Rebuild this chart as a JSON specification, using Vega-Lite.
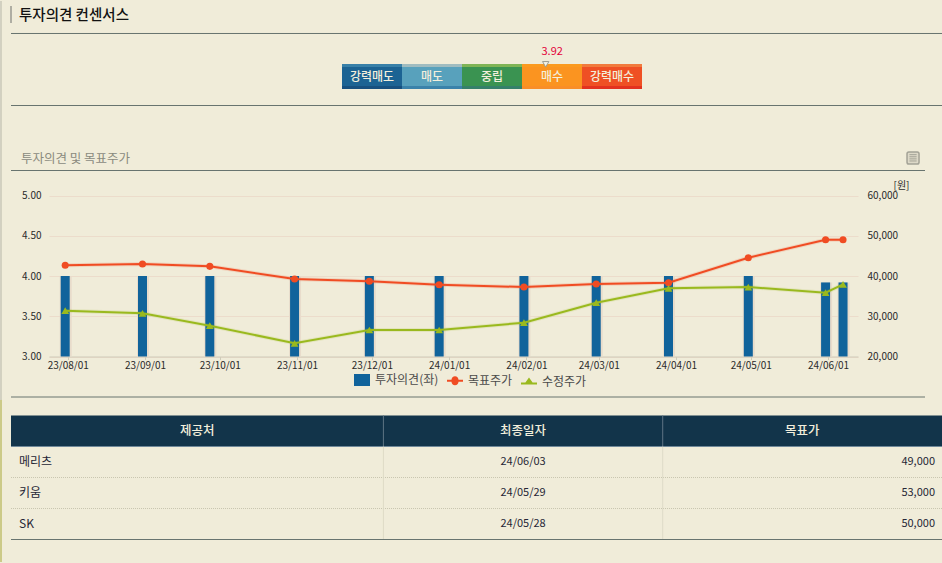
{
  "$schema": "https://vega.github.io/schema/vega-lite/v6.json",
  "background": "#f0ecd9",
  "padding": 0,
  "spacing": 0,
  "bounds": "flush",
  "datasets": {
    "head": [{"provider": "제공처", "date": "최종일자", "target": "목표가"}],
    "body": [
      {"provider": "메리츠", "date": "24/06/03", "target": 49000},
      {"provider": "키움", "date": "24/05/29", "target": 53000},
      {"provider": "SK", "date": "24/05/28", "target": 50000}
    ]
  },
  "vconcat": [
    {
      "width": 942,
      "height": 33,
      "view": {"fill": "#f0ecd9", "stroke": null},
      "data": {"values": [{"heading": "투자의견 컨센서스"}]},
      "encoding": {
        "x": {"datum": 0, "type": "quantitative", "axis": null, "scale": {"domain": [0, 1], "range": [11, 942], "zero": false, "nice": false}},
        "y": {"datum": 0.47, "type": "quantitative", "axis": null, "scale": {"domain": [0, 1], "range": [0, 33], "zero": false, "nice": false}}
      },
      "layer": [
        {"mark": {"type": "text", "align": "left", "baseline": "middle", "dx": 8, "fontSize": 14.5, "fontWeight": 500, "color": "#111"}, "encoding": {"text": {"field": "heading"}}},
        {"mark": {"type": "rule", "color": "#9a9a90", "strokeWidth": 1.5}, "encoding": {"y": {"datum": 0.18, "type": "quantitative"}, "y2": {"datum": 0.7}}},
        {"mark": {"type": "rule", "color": "#68746f"}, "encoding": {"y": {"datum": 1.015, "type": "quantitative"}, "x2": {"datum": 1}}},
        {"mark": {"type": "rule", "color": "#b5b5a8", "strokeWidth": 1}, "encoding": {"x": {"datum": -0.01074, "type": "quantitative"}, "y": {"datum": 0.03, "type": "quantitative"}, "y2": {"datum": 12.12}}},
        {"mark": {"type": "rule", "color": "#a8a838", "strokeWidth": 1}, "encoding": {"x": {"datum": -0.01074, "type": "quantitative"}, "y": {"datum": 12.12, "type": "quantitative"}, "y2": {"datum": 17.03}}}
      ]
    },
    {
      "width": 942,
      "height": 72,
      "data": {"values": [
        {"label": "강력매도", "score": 1, "from": 0.5, "to": 1.5},
        {"label": "매도", "score": 2, "from": 1.5, "to": 2.5},
        {"label": "중립", "score": 3, "from": 2.5, "to": 3.5},
        {"label": "매수", "score": 4, "from": 3.5, "to": 4.5},
        {"label": "강력매수", "score": 5, "from": 4.5, "to": 5.5}
      ]},
      "resolve": {"scale": {"color": "independent"}},
      "layer": [
        {
          "mark": {"type": "rect"},
          "encoding": {
            "x": {"field": "from", "type": "quantitative", "axis": null, "scale": {"domain": [-5.0167, 10.5], "range": [11, 942], "zero": false, "nice": false}},
            "x2": {"field": "to"},
            "y": {"datum": 0, "type": "quantitative", "axis": null, "scale": {"domain": [0, 25], "range": [31, 56], "zero": false, "nice": false}},
            "y2": {"datum": 25},
            "color": {"field": "label", "type": "nominal", "legend": null, "sort": null, "scale": {"domain": ["강력매도", "매도", "중립", "매수", "강력매수"], "range": ["#1c6393", "#58a1bc", "#3a9351", "#fb9420", "#ef5024"]}}
          }
        },
        {
          "mark": {"type": "rect"},
          "encoding": {
            "x": {"field": "from", "type": "quantitative"},
            "x2": {"field": "to"},
            "y": {"datum": 0, "type": "quantitative"},
            "y2": {"datum": 3},
            "color": {"field": "label", "type": "nominal", "legend": null, "scale": {"domain": ["강력매도", "매도", "중립", "매수", "강력매수"], "range": ["#3880a8", "#a0bcc0", "#7fb455", "#fb9a1f", "#f17a3d"]}}
          }
        },
        {
          "mark": {"type": "rect"},
          "encoding": {
            "x": {"field": "from", "type": "quantitative"},
            "x2": {"field": "to"},
            "y": {"datum": 22, "type": "quantitative"},
            "y2": {"datum": 25},
            "color": {"field": "label", "type": "nominal", "legend": null, "scale": {"domain": ["강력매도", "매도", "중립", "매수", "강력매수"], "range": ["#17507f", "#3a82aa", "#35806a", "#f98e28", "#e3321f"]}}
          }
        },
        {
          "mark": {"type": "text", "baseline": "middle", "fontSize": 12, "fontWeight": 500, "color": "#f3efdc"},
          "encoding": {
            "x": {"field": "score", "type": "quantitative"},
            "y": {"datum": 12.5, "type": "quantitative"},
            "text": {"field": "label"}
          }
        },
        {
          "data": {"values": [{"score": 3.92}]},
          "layer": [
            {
              "mark": {"type": "point", "shape": "triangle-down", "filled": true, "fill": "#f5f3e6", "stroke": "#9d9d92", "strokeWidth": 1, "size": 40, "opacity": 1, "xOffset": -1.5},
              "encoding": {"x": {"field": "score", "type": "quantitative"}, "y": {"datum": 0.3, "type": "quantitative"}}
            },
            {
              "mark": {"type": "text", "baseline": "middle", "dx": 5, "fontSize": 11, "color": "#e4003a"},
              "encoding": {"x": {"field": "score", "type": "quantitative"}, "y": {"datum": -12, "type": "quantitative"}, "text": {"field": "score", "type": "quantitative", "format": ".2f"}}
            }
          ]
        },
        {
          "mark": {"type": "rule", "color": "#68746f"},
          "encoding": {"x": {"datum": -5.0167, "type": "quantitative"}, "x2": {"datum": 10.5}, "y": {"datum": 41.5, "type": "quantitative"}}
        }
      ]
    },
    {
      "width": 942,
      "height": 65,
      "data": {"values": [{"heading": "투자의견 및 목표주가"}]},
      "encoding": {
        "x": {"datum": 0, "type": "quantitative", "axis": null, "scale": {"domain": [0, 1], "range": [11, 925], "zero": false, "nice": false}},
        "y": {"datum": 0.83, "type": "quantitative", "axis": null, "scale": {"domain": [0, 1], "range": [0, 65], "zero": false, "nice": false}}
      },
      "layer": [
        {"mark": {"type": "text", "align": "left", "baseline": "middle", "dx": 10, "fontSize": 12.5, "color": "#8a8a7e"}, "encoding": {"text": {"field": "heading"}}},
        {"mark": {"type": "rule", "color": "#68746f"}, "encoding": {"y": {"datum": 1.0077, "type": "quantitative"}, "x2": {"datum": 1}}},
        {
          "mark": {"type": "point", "shape": "M-0.7,-1H0.7Q1,-1 1,-0.7V0.7Q1,1 0.7,1H-0.7Q-1,1 -1,0.7V-0.7Q-1,-1 -0.7,-1Z", "filled": true, "fill": "#ddd9c8", "stroke": "#a3a296", "strokeWidth": 1.5, "size": 144, "opacity": 1},
          "encoding": {"x": {"datum": 0.9869, "type": "quantitative"}, "y": {"datum": 0.815, "type": "quantitative"}}
        },
        {
          "mark": {"type": "point", "shape": "M-0.6,-0.55H0.6M-0.6,-0.2H0.6M-0.6,0.15H0.6M-0.6,0.5H0.6", "filled": false, "stroke": "#a3a296", "strokeWidth": 1, "size": 144, "opacity": 1},
          "encoding": {"x": {"datum": 0.9869, "type": "quantitative"}, "y": {"datum": 0.815, "type": "quantitative"}}
        }
      ]
    },
    {
      "width": 942,
      "height": 186.5,
      "data": {"values": [
        {"date": "2023-07-31", "opinion": 4.0, "target": 42650, "adjusted": 31380},
        {"date": "2023-08-31", "opinion": 4.0, "target": 42980, "adjusted": 30730},
        {"date": "2023-09-27", "opinion": 4.0, "target": 42400, "adjusted": 27650},
        {"date": "2023-10-31", "opinion": 4.0, "target": 39250, "adjusted": 23280},
        {"date": "2023-11-30", "opinion": 4.0, "target": 38680, "adjusted": 26580},
        {"date": "2023-12-28", "opinion": 4.0, "target": 37840, "adjusted": 26580},
        {"date": "2024-01-31", "opinion": 4.0, "target": 37260, "adjusted": 28400},
        {"date": "2024-02-29", "opinion": 4.0, "target": 38010, "adjusted": 33360},
        {"date": "2024-03-29", "opinion": 4.0, "target": 38330, "adjusted": 36940},
        {"date": "2024-04-30", "opinion": 4.0, "target": 44540, "adjusted": 37260},
        {"date": "2024-05-31", "opinion": 3.92, "target": 49010, "adjusted": 35850},
        {"date": "2024-06-07", "opinion": 3.92, "target": 49010, "adjusted": 37930}
      ]},
      "resolve": {"scale": {"y": "independent"}},
      "encoding": {
        "x": {
          "field": "date",
          "type": "temporal",
          "scale": {
            "type": "utc",
            "nice": false,
            "padding": 0,
            "domain": [{"year": 2023, "month": 7, "date": 24, "hours": 12, "utc": true}, {"year": 2024, "month": 6, "date": 13, "utc": true}],
            "range": [49, 858]
          },
          "axis": {
            "title": null,
            "format": "%y/%m/%d",
            "values": [
              {"year": 2023, "month": 8, "date": 1, "utc": true},
              {"year": 2023, "month": 9, "date": 1, "utc": true},
              {"year": 2023, "month": 10, "date": 1, "utc": true},
              {"year": 2023, "month": 11, "date": 1, "utc": true},
              {"year": 2023, "month": 12, "date": 1, "utc": true},
              {"year": 2024, "month": 1, "date": 1, "utc": true},
              {"year": 2024, "month": 2, "date": 1, "utc": true},
              {"year": 2024, "month": 3, "date": 1, "utc": true},
              {"year": 2024, "month": 4, "date": 1, "utc": true},
              {"year": 2024, "month": 5, "date": 1, "utc": true},
              {"year": 2024, "month": 6, "date": 1, "utc": true}
            ],
            "grid": false,
            "labelAngle": 0,
            "labelFontSize": 10,
            "labelColor": "#2a2a2a",
            "labelPadding": 1,
            "labelFlush": false,
            "labelOverlap": false,
            "tickSize": 3,
            "tickColor": "#cfcbb9",
            "domainColor": "#cfcbb9"
          }
        }
      },
      "layer": [
        {
          "mark": {"type": "bar", "size": 12, "xOffset": 0.5, "color": "#e8dccb"},
          "encoding": {
            "y": {"field": "opinion", "type": "quantitative", "axis": null, "scale": {"domain": [3, 5], "range": [186.5, 25.5], "zero": false, "nice": false}},
            "y2": {"datum": 3}
          }
        },
        {
          "mark": {"type": "bar", "size": 9, "color": "#10639b"},
          "encoding": {
            "y": {
              "field": "opinion",
              "type": "quantitative",
              "scale": {"domain": [3, 5], "range": [186.5, 25.5], "zero": false, "nice": false},
              "axis": {
                "title": null,
                "orient": "left",
                "offset": -49,
                "values": [3, 3.5, 4, 4.5, 5],
                "format": ".2f",
                "grid": true,
                "gridColor": "#ecdccb",
                "domain": false,
                "ticks": false,
                "labelFontSize": 10,
                "labelColor": "#2a2a2a",
                "labelPadding": 8
              }
            },
            "y2": {"datum": 3}
          }
        },
        {
          "mark": {"type": "line", "color": "#f04c23", "strokeWidth": 4, "opacity": 0.15},
          "encoding": {"y": {"field": "target", "type": "quantitative", "axis": null, "scale": {"domain": [20000, 60000], "range": [186.5, 25.5], "zero": false, "nice": false}}}
        },
        {
          "mark": {"type": "line", "color": "#9ab91e", "strokeWidth": 4, "opacity": 0.15},
          "encoding": {"y": {"field": "adjusted", "type": "quantitative", "axis": null, "scale": {"domain": [20000, 60000], "range": [186.5, 25.5], "zero": false, "nice": false}}}
        },
        {
          "mark": {"type": "line", "color": "#f04c23", "strokeWidth": 2},
          "encoding": {
            "y": {
              "field": "target",
              "type": "quantitative",
              "scale": {"domain": [20000, 60000], "range": [186.5, 25.5], "zero": false, "nice": false},
              "axis": {
                "orient": "right",
                "offset": -84,
                "values": [20000, 30000, 40000, 50000, 60000],
                "format": ",.0f",
                "grid": false,
                "domain": false,
                "ticks": false,
                "labelFontSize": 10,
                "labelColor": "#2a2a2a",
                "labelPadding": 9,
                "title": "[원]",
                "titleFontSize": 10,
                "titleFontWeight": "normal",
                "titleColor": "#2a2a2a",
                "titleAngle": 0,
                "titleAlign": "center",
                "titleBaseline": "middle",
                "titleX": 43,
                "titleY": 15
              }
            }
          }
        },
        {
          "mark": {"type": "point", "shape": "circle", "filled": true, "color": "#f04c23", "size": 50, "opacity": 1},
          "encoding": {"y": {"field": "target", "type": "quantitative", "axis": null, "scale": {"domain": [20000, 60000], "range": [186.5, 25.5], "zero": false, "nice": false}}}
        },
        {
          "mark": {"type": "line", "color": "#9ab91e", "strokeWidth": 2},
          "encoding": {"y": {"field": "adjusted", "type": "quantitative", "axis": null, "scale": {"domain": [20000, 60000], "range": [186.5, 25.5], "zero": false, "nice": false}}}
        },
        {
          "mark": {"type": "point", "shape": "triangle-up", "filled": true, "color": "#9ab91e", "size": 60, "opacity": 1},
          "encoding": {"y": {"field": "adjusted", "type": "quantitative", "axis": null, "scale": {"domain": [20000, 60000], "range": [186.5, 25.5], "zero": false, "nice": false}}}
        },
        {
          "data": {"values": [{"series": "투자의견(좌)"}, {"series": "목표주가"}, {"series": "수정주가"}]},
          "mark": {"type": "point", "filled": true, "opacity": 1},
          "encoding": {
            "x": {"value": 0},
            "y": {"value": 0},
            "size": {"value": 0},
            "color": {
              "field": "series",
              "type": "nominal",
              "title": null,
              "scale": {"domain": ["투자의견(좌)", "목표주가", "수정주가"], "range": ["#10639b", "#f04c23", "#9ab91e"]},
              "legend": {
                "orient": "none",
                "direction": "horizontal",
                "legendX": 353,
                "legendY": 371,
                "title": null,
                "symbolSize": 256,
                "labelOffset": 4,
                "columnPadding": 5,
                "labelFontSize": 12,
                "labelColor": "#4a4a4a",
                "symbolOpacity": 1
              }
            },
            "shape": {
              "field": "series",
              "type": "nominal",
              "title": null,
              "scale": {
                "domain": ["투자의견(좌)", "목표주가", "수정주가"],
                "range": [
                  "M-1,-0.75H1V0.75H-1Z",
                  "M-1,-0.125H-0.44A0.44,0.44 0 0,1 0.44,-0.125H1V0.125H0.44A0.44,0.44 0 0,1 -0.44,0.125H-1Z",
                  "M-1,0.125H-0.45L0,-0.5L0.45,0.125H1V0.375H-1Z"
                ]
              }
            }
          }
        }
      ]
    },
    {
      "width": 942,
      "height": 39.5,
      "data": {"values": [{"line": "section end"}]},
      "mark": {"type": "rule", "color": "#68746f"},
      "encoding": {
        "x": {"datum": 0, "type": "quantitative", "axis": null, "scale": {"domain": [0, 1], "range": [11, 925], "zero": false, "nice": false}},
        "x2": {"datum": 1},
        "y": {"datum": 1.0127, "type": "quantitative", "axis": null, "scale": {"domain": [0, 1], "range": [0, 39.5], "zero": false, "nice": false}}
      }
    },
    {
      "width": 942,
      "height": 167,
      "data": {"name": "body"},
      "encoding": {
        "x": {"datum": 0, "type": "quantitative", "axis": null, "scale": {"domain": [0, 1], "range": [11, 942], "zero": false, "nice": false}},
        "y": {"field": "provider", "type": "nominal", "axis": null, "scale": {"domain": ["제공처", "메리츠", "키움", "SK"], "range": [18.5, 142.5], "paddingInner": 0, "paddingOuter": 0}}
      },
      "layer": [
        {"data": {"name": "head"}, "mark": {"type": "rect", "color": "#12344a"}, "encoding": {"x2": {"datum": 1}}},
        {"data": {"name": "head"}, "mark": {"type": "rule", "color": "#6f8899"}, "encoding": {"x2": {"datum": 1}, "y": {"field": "provider", "type": "nominal", "bandPosition": 1}}},
        {"data": {"name": "head"}, "mark": {"type": "tick", "size": 31, "thickness": 1, "orient": "vertical", "color": "#5e7484", "opacity": 1}, "encoding": {"x": {"datum": 0.4, "type": "quantitative"}}},
        {"data": {"name": "head"}, "mark": {"type": "tick", "size": 31, "thickness": 1, "orient": "vertical", "color": "#5e7484", "opacity": 1}, "encoding": {"x": {"datum": 0.7, "type": "quantitative"}}},
        {"mark": {"type": "rule", "color": "#c9c6b0", "strokeDash": [1, 1]}, "encoding": {"x2": {"datum": 1}, "y": {"field": "provider", "type": "nominal", "bandPosition": 1}}},
        {"mark": {"type": "tick", "size": 31, "thickness": 1, "orient": "vertical", "color": "#dedbc7", "opacity": 1}, "encoding": {"x": {"datum": 0.4, "type": "quantitative"}}},
        {"mark": {"type": "tick", "size": 31, "thickness": 1, "orient": "vertical", "color": "#dedbc7", "opacity": 1}, "encoding": {"x": {"datum": 0.7, "type": "quantitative"}}},
        {"transform": [{"filter": "datum.provider == 'SK'"}], "mark": {"type": "rule", "color": "#68746f"}, "encoding": {"x2": {"datum": 1}, "y": {"field": "provider", "type": "nominal", "bandPosition": 1}}},
        {"data": {"name": "head"}, "mark": {"type": "text", "baseline": "middle", "fontSize": 12.5, "fontWeight": 500, "color": "#f3efdc"}, "encoding": {"x": {"datum": 0.2, "type": "quantitative"}, "text": {"field": "provider"}}},
        {"data": {"name": "head"}, "mark": {"type": "text", "baseline": "middle", "fontSize": 12.5, "fontWeight": 500, "color": "#f3efdc"}, "encoding": {"x": {"datum": 0.55, "type": "quantitative"}, "text": {"field": "date"}}},
        {"data": {"name": "head"}, "mark": {"type": "text", "baseline": "middle", "fontSize": 12.5, "fontWeight": 500, "color": "#f3efdc"}, "encoding": {"x": {"datum": 0.85, "type": "quantitative"}, "text": {"field": "target"}}},
        {"mark": {"type": "text", "align": "left", "baseline": "middle", "dx": 8, "fontSize": 12, "color": "#262636"}, "encoding": {"text": {"field": "provider"}}},
        {"mark": {"type": "text", "baseline": "middle", "fontSize": 11, "color": "#262636"}, "encoding": {"x": {"datum": 0.55, "type": "quantitative"}, "text": {"field": "date"}}},
        {"mark": {"type": "text", "align": "right", "baseline": "middle", "dx": -7, "fontSize": 11, "color": "#262636"}, "encoding": {"x": {"datum": 1, "type": "quantitative"}, "text": {"field": "target", "type": "quantitative", "format": ",.0f"}}}
      ]
    }
  ],
  "config": {
    "font": "Noto Sans CJK KR",
    "view": {"stroke": null},
    "axis": {"labelFont": "Noto Sans CJK KR", "titleFont": "Noto Sans CJK KR"},
    "legend": {"labelFont": "Noto Sans CJK KR"},
    "text": {"font": "Noto Sans CJK KR"}
  }
}
